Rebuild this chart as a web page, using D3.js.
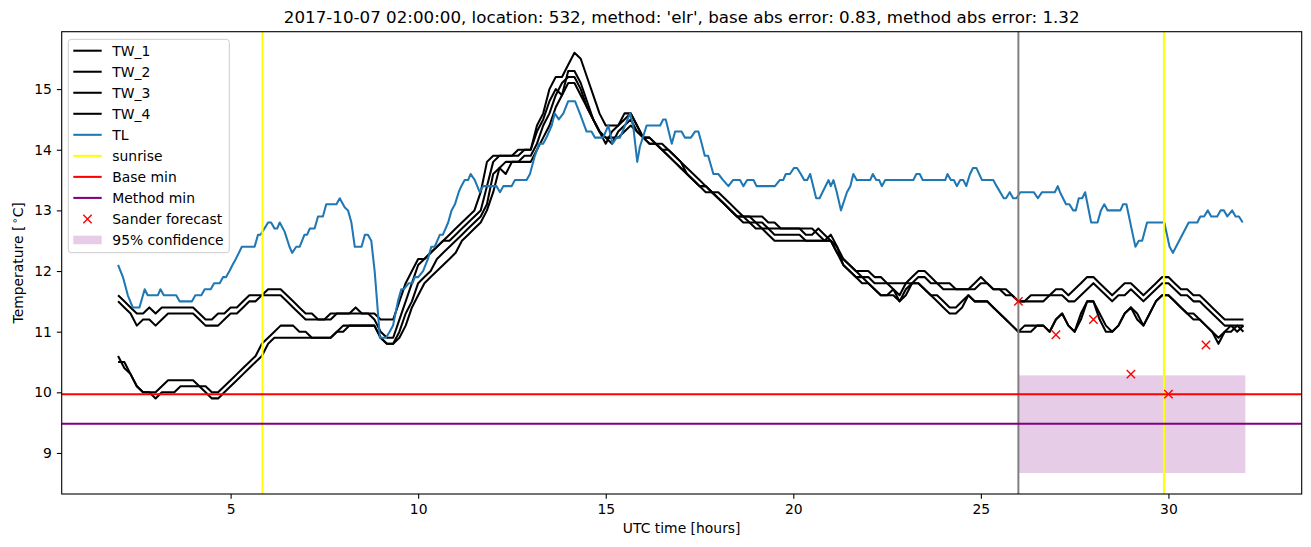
<!DOCTYPE html>
<html><head><meta charset="utf-8">
<script src="https://cdn.jsdelivr.net/npm/d3@7"></script>
<style>body{margin:0;background:#fff} svg{font-family:"DejaVu Sans",sans-serif}</style>
</head><body><svg id="c" width="1311" height="547"></svg>
<script>
// ---------------- data ----------------
const sampleMinutes = [
120,130,140,150,160,170, 180,190,200,210,220,230, 240,250,260,270,280,290,
300,310,320,330,340,350, 360,370,380,390,400,410, 420,430,440,450,460,470,
480,490,500,510,520,530, 540,550,560,570,580,590, 600,610,620,630,640,650,
660,670,680,690,700,710, 720,730,740,750,760,770, 780,790,800,810,820,830,
840,850,860,870,880,890, 900,910,920,930,940,950, 960,970,980,990,1000,1010,
1020,1030,1040,1050,1060,1070, 1080,1090,1100,1110,1120,1130, 1140,1150,1160,1170,1180,1190,
1200,1210,1220,1230,1240,1250, 1260,1270,1280,1290,1300,1310, 1320,1330,1340,1350,1360,1370,
1380,1390,1400,1410,1420,1430, 1440,1450,1460,1470,1480,1490, 1500,1510,1520,1530,1540,1550,
1560,1570,1580,1590,1600,1610, 1620,1630,1640,1650,1660,1670, 1680,1690,1700,1710,1720,1730,
1740,1750,1760,1770,1780,1790, 1800,1810,1820,1830,1840,1850, 1860,1870,1880,1890,1900,1910,
1920];

const tw1 = [
11.6,11.5,11.4,11.3,11.3,11.4, 11.3,11.4,11.4,11.4,11.4,11.4, 11.4,11.3,11.2,11.2,11.3,11.3,
11.4,11.4,11.5,11.6,11.6,11.6, 11.7,11.7,11.7,11.6,11.5,11.4, 11.3,11.3,11.2,11.2,11.2,11.3,
11.3,11.3,11.4,11.3,11.3,11.3, 11.2,11.2,11.2,11.5,11.8,12.0, 12.2,12.2,12.3,12.4,12.5,12.6,
12.7,12.8,12.9,13.0,13.3,13.8, 13.9,13.9,13.9,13.9,14.0,14.0, 14.0,14.4,14.6,15.0,15.2,15.2,
15.4,15.6,15.5,15.2,14.9,14.6, 14.4,14.4,14.4,14.6,14.6,14.4, 14.2,14.2,14.1,14.1,14.0,13.9,
13.8,13.7,13.6,13.5,13.4,13.3, 13.3,13.2,13.1,13.0,12.9,12.9, 12.9,12.9,12.8,12.8,12.7,12.7,
12.7,12.7,12.7,12.7,12.6,12.5, 12.5,12.3,12.2,12.1,12.0,12.0, 12.0,11.9,11.9,11.8,11.8,11.8,
11.8,11.9,12.0,12.0,11.9,11.8, 11.8,11.8,11.7,11.7,11.7,11.7, 11.8,11.8,11.7,11.7,11.6,11.6,
11.5,11.5,11.6,11.6,11.6,11.6, 11.7,11.7,11.6,11.7,11.8,11.9, 11.9,11.8,11.7,11.6,11.7,11.8,
11.8,11.7,11.6,11.7,11.8,11.9, 11.9,11.8,11.7,11.7,11.6,11.6, 11.5,11.4,11.3,11.2,11.2,11.2,
11.2];

const tw2 = [
11.5,11.4,11.3,11.1,11.2,11.2, 11.1,11.2,11.3,11.3,11.3,11.3, 11.3,11.2,11.1,11.1,11.1,11.2,
11.3,11.3,11.4,11.5,11.5,11.6, 11.6,11.6,11.6,11.5,11.4,11.3, 11.2,11.2,11.2,11.2,11.3,11.3,
11.3,11.3,11.3,11.3,11.3,11.2, 11.0,10.9,10.9,11.2,11.5,11.8, 12.1,12.2,12.3,12.4,12.5,12.5,
12.6,12.7,12.8,12.9,13.0,13.4, 13.8,13.9,13.9,13.9,13.9,14.0, 14.0,14.3,14.5,14.8,15.0,14.9,
15.3,15.3,15.1,14.8,14.5,14.3, 14.1,14.3,14.4,14.5,14.6,14.4, 14.2,14.1,14.1,14.0,14.0,13.9,
13.8,13.6,13.5,13.4,13.4,13.3, 13.2,13.1,13.0,12.9,12.9,12.9, 12.8,12.8,12.7,12.7,12.7,12.7,
12.7,12.7,12.6,12.6,12.7,12.6, 12.5,12.4,12.2,12.1,12.0,11.9, 11.9,11.8,11.8,11.8,11.7,11.5,
11.6,11.8,11.9,11.9,11.8,11.8, 11.7,11.7,11.7,11.7,11.7,11.8, 11.9,11.8,11.7,11.7,11.7,11.6,
11.5,11.5,11.5,11.5,11.5,11.6, 11.6,11.6,11.5,11.5,11.6,11.7, 11.8,11.7,11.6,11.5,11.6,11.6,
11.7,11.6,11.5,11.6,11.7,11.8, 11.8,11.7,11.6,11.6,11.5,11.5, 11.4,11.3,11.2,11.1,11.1,11.1,
11.1];

const tw3 = [
10.6,10.4,10.3,10.1,10.0,10.0, 10.0,10.1,10.2,10.2,10.2,10.2, 10.2,10.1,10.1,10.0,10.0,10.1,
10.2,10.3,10.4,10.5,10.6,10.8, 10.9,11.0,11.1,11.1,11.1,11.0, 11.0,10.9,10.9,10.9,10.9,11.0,
11.1,11.1,11.1,11.1,11.1,11.1, 10.9,10.8,10.8,11.0,11.3,11.5, 11.8,11.9,12.0,12.2,12.3,12.4,
12.5,12.6,12.7,12.8,12.9,13.1, 13.6,13.7,13.6,13.8,13.8,13.9, 13.9,14.1,14.4,14.6,14.9,15.1,
15.2,15.2,15.0,14.7,14.5,14.3, 14.2,14.1,14.3,14.4,14.5,14.3, 14.2,14.1,14.1,14.0,13.9,13.8,
13.7,13.6,13.5,13.4,13.4,13.3, 13.2,13.1,13.0,12.9,12.9,12.8, 12.8,12.7,12.7,12.6,12.6,12.6,
12.6,12.6,12.5,12.5,12.5,12.5, 12.6,12.4,12.1,12.0,11.9,11.9, 11.8,11.7,11.6,11.6,11.7,11.6,
11.8,11.8,11.8,11.7,11.6,11.6, 11.5,11.4,11.4,11.5,11.6,11.5, 11.5,11.5,11.4,11.3,11.2,11.1,
11.0,11.1,11.1,11.1,11.1,11.0, 11.2,11.3,11.1,11.0,11.3,11.5, 11.5,11.3,11.1,11.0,11.1,11.3,
11.4,11.3,11.1,11.3,11.5,11.6, 11.6,11.5,11.4,11.3,11.3,11.2, 11.1,11.0,10.8,11.0,11.0,11.1,
11.0];

const tw4 = [
10.5,10.5,10.3,10.1,10.0,10.0, 9.9,10.0,10.0,10.0,10.1,10.1, 10.1,10.1,10.0,9.9,9.9,10.0,
10.1,10.2,10.3,10.4,10.5,10.6, 10.8,10.9,10.9,10.9,10.9,10.9, 10.9,10.9,10.9,10.9,10.9,11.0,
11.0,11.1,11.1,11.1,11.1,11.1, 10.9,10.8,10.8,10.9,11.1,11.4, 11.6,11.8,11.9,12.0,12.1,12.2,
12.3,12.5,12.6,12.7,12.8,13.0, 13.3,13.7,13.8,13.8,13.8,13.8, 13.8,14.0,14.2,14.4,14.7,14.9,
15.1,15.1,14.9,14.7,14.5,14.3, 14.2,14.2,14.2,14.3,14.4,14.3, 14.2,14.2,14.1,14.0,13.9,13.8,
13.7,13.6,13.5,13.4,13.3,13.3, 13.2,13.1,13.0,12.9,12.8,12.8, 12.7,12.7,12.6,12.5,12.5,12.5,
12.5,12.5,12.5,12.5,12.5,12.5, 12.5,12.3,12.1,12.0,11.9,11.8, 11.8,11.7,11.6,11.6,11.6,11.5,
11.7,11.8,11.8,11.7,11.6,11.5, 11.4,11.3,11.3,11.4,11.6,11.5, 11.5,11.5,11.4,11.3,11.2,11.1,
11.0,11.0,11.0,11.1,11.1,11.0, 11.2,11.3,11.1,11.0,11.2,11.5, 11.5,11.2,11.0,11.0,11.1,11.3,
11.4,11.2,11.1,11.3,11.5,11.6, 11.6,11.5,11.4,11.3,11.2,11.2, 11.1,11.0,10.9,11.0,11.1,11.0,
11.1];

// TL readings: [hour, value]
const tlReadings = [
[2.0,12.1],[2.13,11.9],[2.26,11.6],[2.39,11.4],[2.57,11.4],[2.71,11.7],[2.79,11.6],[3.06,11.6],[3.13,11.7],[3.22,11.6],
[3.55,11.6],[3.64,11.5],[3.97,11.5],[4.06,11.6],[4.22,11.6],[4.31,11.7],[4.47,11.7],[4.56,11.8],[4.71,11.8],[4.8,11.9],
[4.88,11.9],[4.97,12.0],[5.05,12.1],[5.14,12.2],[5.22,12.3],[5.3,12.4],[5.64,12.4],[5.73,12.6],[5.8,12.6],[6.0,12.8],[6.08,12.8],
[6.17,12.7],[6.24,12.7],[6.31,12.8],[6.44,12.65],[6.57,12.4],[6.64,12.3],[6.75,12.4],[6.84,12.4],[6.97,12.6],[7.04,12.6],
[7.11,12.7],[7.24,12.7],[7.33,12.9],[7.46,12.9],[7.55,13.1],[7.82,13.1],[7.91,13.2],[8.04,13.05],[8.13,13.0],[8.22,12.8],
[8.31,12.4],[8.49,12.4],[8.58,12.6],[8.66,12.6],[8.75,12.5],[8.84,12.0],[8.98,10.9],[9.14,10.9],[9.24,11.0],[9.33,11.1],
[9.46,11.5],[9.55,11.7],[9.62,11.7],[9.75,11.8],[9.85,11.8],[9.91,11.9],[10.0,11.9],[10.13,12.0],[10.26,12.2],[10.35,12.4],
[10.44,12.4],[10.58,12.6],[10.66,12.6],[10.8,12.8],[10.89,13.0],[10.98,13.1],[11.08,13.3],[11.15,13.4],[11.24,13.5],[11.33,13.5],
[11.4,13.6],[11.51,13.5],[11.64,13.3],[11.73,13.4],[12.09,13.4],[12.18,13.3],[12.27,13.4],[12.49,13.4],[12.58,13.5],[12.89,13.5],
[12.98,13.6],[13.11,13.9],[13.23,14.1],[13.33,14.1],[13.42,14.2],[13.56,14.4],[13.64,14.6],[13.75,14.5],[13.87,14.6],[14.0,14.8],
[14.18,14.8],[14.31,14.6],[14.49,14.3],[14.62,14.3],[14.71,14.2],[14.93,14.2],[15.07,14.4],[15.18,14.1],[15.29,14.2],[15.38,14.2],
[15.65,14.6],[15.73,14.4],[15.84,13.8],[15.91,14.05],[16.04,14.3],[16.09,14.4],[16.45,14.4],[16.53,14.5],[16.6,14.5],[16.76,14.1],
[16.85,14.3],[17.02,14.3],[17.11,14.2],[17.27,14.2],[17.38,14.3],[17.47,14.3],[17.56,14.1],[17.64,13.9],[17.73,13.9],[17.87,13.6],
[18.0,13.6],[18.13,13.5],[18.27,13.4],[18.39,13.5],[18.58,13.5],[18.67,13.4],[18.77,13.5],[18.94,13.5],[19.02,13.4],[19.51,13.4],
[19.64,13.5],[19.73,13.5],[19.8,13.6],[19.91,13.6],[20.02,13.7],[20.1,13.7],[20.2,13.6],[20.29,13.5],[20.37,13.5],[20.45,13.6],
[20.61,13.2],[20.7,13.2],[20.94,13.5],[21.0,13.4],[21.07,13.5],[21.16,13.3],[21.27,13.0],[21.43,13.3],[21.52,13.4],[21.6,13.6],
[21.69,13.5],[22.05,13.5],[22.12,13.6],[22.21,13.5],[22.29,13.5],[22.36,13.4],[22.45,13.5],[23.2,13.5],[23.28,13.6],[23.37,13.6],
[23.45,13.5],[24.05,13.5],[24.11,13.6],[24.2,13.5],[24.28,13.5],[24.36,13.4],[24.45,13.5],[24.53,13.5],[24.61,13.4],[24.71,13.6],
[24.79,13.7],[24.88,13.7],[25.03,13.5],[25.33,13.5],[25.42,13.4],[25.61,13.2],[25.67,13.2],[25.77,13.3],[25.86,13.2],[25.95,13.2],
[26.05,13.3],[26.41,13.3],[26.52,13.2],[26.63,13.3],[26.97,13.3],[27.05,13.4],[27.11,13.3],[27.27,13.1],[27.36,13.1],[27.46,13.0],
[27.53,13.0],[27.61,13.2],[27.7,13.2],[27.78,13.3],[27.94,12.8],[28.11,12.8],[28.2,13.0],[28.29,13.1],[28.38,13.0],[28.72,13.0],
[28.79,13.1],[28.88,13.1],[29.05,12.6],[29.12,12.4],[29.21,12.5],[29.3,12.5],[29.43,12.8],[29.89,12.8],[30.03,12.4],[30.12,12.3],
[30.54,12.8],[30.77,12.8],[30.85,12.9],[30.95,12.9],[31.05,13.0],[31.14,12.9],[31.3,12.9],[31.39,13.0],[31.48,13.0],[31.57,12.9],
[31.7,13.0],[31.79,12.9],[31.88,12.9],[31.98,12.8]];

const sanderHours = [26, 27, 28, 29, 30, 31];
const sanderValues = [11.5, 10.95, 11.2, 10.3, 9.97, 10.78];
const sunriseHours = [5.85, 29.88];
const forecastHour = 26.0;
const baseMin = 9.97;
const methodMin = 9.48;
const confidenceHours = [26.0, 32.05];
const confidenceRange = [8.67, 10.28];
const xTicks = [5, 10, 15, 20, 25, 30];
const yTicks = [9, 10, 11, 12, 13, 14, 15];
const legendLabels = ["TW_1","TW_2","TW_3","TW_4","TL","sunrise","Base min","Method min","Sander forecast","95% confidence"];
const titleText = "2017-10-07 02:00:00, location: 532, method: 'elr', base abs error: 0.83, method abs error: 1.32";

// ---------------- layout ----------------
const svg = d3.select("#c");
const L = 61.7, R = 1301.7, T = 31.7, B = 494;
const blue = "#1f77b4";

const allX = [2.0, 32.05];
const xr = allX[1] - allX[0];
const x = d3.scaleLinear().domain([allX[0] - 0.05 * xr, allX[1] + 0.05 * xr]).range([L, R]);
const yMin = confidenceRange[0], yMax = d3.max([...tw1, ...tw2, ...tw3, ...tw4, ...tlReadings.map(d => d[1])]);
const yr = yMax - yMin;
const y = d3.scaleLinear().domain([yMin - 0.05 * yr, yMax + 0.05 * yr]).range([B, T]);

svg.append("defs").append("clipPath").attr("id", "clip")
  .append("rect").attr("x", L).attr("y", T).attr("width", R - L).attr("height", B - T);
const plot = svg.append("g").attr("clip-path", "url(#clip)");

// confidence patch
plot.append("rect")
  .attr("x", x(confidenceHours[0])).attr("width", x(confidenceHours[1]) - x(confidenceHours[0]))
  .attr("y", y(confidenceRange[1])).attr("height", y(confidenceRange[0]) - y(confidenceRange[1]))
  .attr("fill", "purple").attr("fill-opacity", 0.2);

const line = d3.line().x(d => x(d[0])).y(d => y(d[1]));
const hours = sampleMinutes.map(m => m / 60);
[tw1, tw2, tw3, tw4].forEach(s => {
  plot.append("path").datum(hours.map((h, i) => [h, s[i]]))
    .attr("d", line).attr("fill", "none").attr("stroke", "#000")
    .attr("stroke-width", 2.05).attr("stroke-linejoin", "round");
});
plot.append("path").datum(tlReadings).attr("d", line).attr("fill", "none")
  .attr("stroke", blue).attr("stroke-width", 2.05).attr("stroke-linejoin", "round");

// forecast start line
plot.append("line").attr("x1", x(forecastHour)).attr("x2", x(forecastHour)).attr("y1", T).attr("y2", B)
  .attr("stroke", "gray").attr("stroke-width", 2);
// sunrise
sunriseHours.forEach(h => plot.append("line").attr("x1", x(h)).attr("x2", x(h)).attr("y1", T).attr("y2", B)
  .attr("stroke", "yellow").attr("stroke-width", 2));
// mins
plot.append("line").attr("x1", L).attr("x2", R).attr("y1", y(baseMin)).attr("y2", y(baseMin))
  .attr("stroke", "red").attr("stroke-width", 2);
plot.append("line").attr("x1", L).attr("x2", R).attr("y1", y(methodMin)).attr("y2", y(methodMin))
  .attr("stroke", "purple").attr("stroke-width", 2);

// Sander markers
function cross(g, cx, cy) {
  const s = 4.2;
  g.append("path").attr("d", `M${cx - s},${cy - s}L${cx + s},${cy + s}M${cx - s},${cy + s}L${cx + s},${cy - s}`)
    .attr("stroke", "red").attr("stroke-width", 1.4).attr("fill", "none");
}
sanderHours.forEach((h, i) => cross(plot, x(h), y(sanderValues[i])));

// axes
const xAxis = d3.axisBottom(x).tickValues(xTicks).tickSize(4.86).tickPadding(5.2).tickFormat(d3.format("d"));
const yAxis = d3.axisLeft(y).tickValues(yTicks).tickSize(4.86).tickPadding(4.9).tickFormat(d3.format("d"));
const gx = svg.append("g").attr("transform", `translate(0,${B})`).call(xAxis);
const gy = svg.append("g").attr("transform", `translate(${L},0)`).call(yAxis);
[gx, gy].forEach(g => {
  g.select(".domain").remove();
  g.selectAll("line").attr("stroke", "#000").attr("stroke-width", 1.1);
  g.selectAll("text").attr("fill", "#000").style("font-size", "13.9px").style("font-family", "DejaVu Sans");
});
svg.append("rect").attr("x", L).attr("y", T).attr("width", R - L).attr("height", B - T)
  .attr("fill", "none").attr("stroke", "#000").attr("stroke-width", 1.1);

// labels
svg.append("text").attr("x", (L + R) / 2).attr("y", 23.4).attr("text-anchor", "middle")
  .style("font-size", "16.7px").text(titleText);
svg.append("text").attr("x", (L + R) / 2).attr("y", 533).attr("text-anchor", "middle")
  .style("font-size", "13.9px").text("UTC time [hours]");
const yl = svg.append("text").attr("transform", `translate(23,${(T + B) / 2}) rotate(-90)`)
  .attr("text-anchor", "middle").style("font-size", "13.9px");
yl.append("tspan").text("Temperature [");
yl.append("tspan").attr("dx", 2).attr("dy", -5).style("font-size", "10px").text("∘");
yl.append("tspan").attr("dy", 5).text("C]");

// legend
const lg = svg.append("g");
lg.append("rect").attr("x", 68.3).attr("y", 39.3).attr("width", 161).attr("height", 213.4).attr("rx", 3)
  .attr("fill", "#fff").attr("fill-opacity", 0.8).attr("stroke", "#cccccc").attr("stroke-width", 1);
const legendStyles = [
  {t: "line", c: "#000"}, {t: "line", c: "#000"}, {t: "line", c: "#000"}, {t: "line", c: "#000"},
  {t: "line", c: blue}, {t: "line", c: "yellow"}, {t: "line", c: "red"}, {t: "line", c: "purple"},
  {t: "x", c: "red"}, {t: "patch", c: "purple"}];
legendLabels.forEach((lab, i) => {
  const cy = 50.7 + i * 21.03;
  const st = legendStyles[i];
  if (st.t === "line") {
    lg.append("line").attr("x1", 73.3).attr("x2", 101.7).attr("y1", cy).attr("y2", cy)
      .attr("stroke", st.c).attr("stroke-width", 2.05);
  } else if (st.t === "x") {
    cross(lg, 87.5, cy);
  } else {
    lg.append("rect").attr("x", 73.3).attr("y", cy - 4.3).attr("width", 28.4).attr("height", 8.6)
      .attr("fill", st.c).attr("fill-opacity", 0.2);
  }
  lg.append("text").attr("x", 112.3).attr("y", cy + 5).style("font-size", "13.9px").text(lab);
});
</script></body></html>
